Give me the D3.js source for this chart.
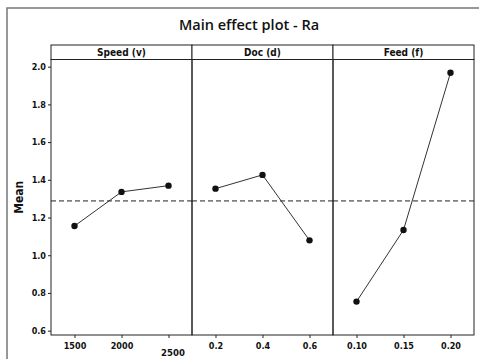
<!DOCTYPE html>
<html>
<head>
<meta charset="utf-8">
<script src="https://cdn.jsdelivr.net/npm/d3@7"></script>
<style>
  body { margin: 0; background: #fff; }
  svg text { font-family: "Liberation Sans Narrow", "DejaVu Sans Condensed", sans-serif; fill: #111; }
</style>
</head>
<body>
<svg id="chart" width="479" height="359"></svg>
<script>
// factors and their levels
var factors = ["Speed (v)", "Doc (d)", "Feed (f)"];
var speedLevels = ["1500", "2000", "2500"];
var docLevels = ["0.2", "0.4", "0.6"];
var feedLevels = ["0.10", "0.15", "0.20"];

// mean Ra at each level
var speedMeans = [1.155, 1.336, 1.369];
var docMeans = [1.353, 1.426, 1.079];
var feedMeans = [0.754, 1.134, 1.968];

var grandMean = 1.288;
var yTicks = [0.6, 0.8, 1.0, 1.2, 1.4, 1.6, 1.8, 2.0];

var svg = d3.select("#chart"),
  width = +svg.attr("width"),
  height = +svg.attr("height");

var plotL = 51, plotR = 474, plotT = 59.5, plotB = 335, stripT = 45;
var panelW = (plotR - plotL) / factors.length;

// outer frame
svg.append("rect")
  .attr("x", 7).attr("y", 8)
  .attr("width", 480).attr("height", 360)
  .attr("fill", "none")
  .attr("stroke", "#777")
  .attr("stroke-width", 1.5);

svg.append("text")
  .attr("x", 249).attr("y", 30)
  .attr("text-anchor", "middle")
  .style("font-family", "'Open Sans', sans-serif")
  .style("font-size", "14.5px")
  .style("font-weight", "600")
  .text("Main effect plot - Ra");

var y = d3.scaleLinear().domain([0.577, 2.038]).range([plotB, plotT]);

var yAxis = svg.append("g")
  .attr("transform", "translate(" + plotL + ",0)")
  .call(d3.axisLeft(y).tickValues(yTicks).tickFormat(d3.format(".1f")).tickSize(3).tickSizeOuter(0));
yAxis.select(".domain").remove();
yAxis.selectAll("text").style("font-size", "9px").style("font-weight", "bold").attr("x", -5);
yAxis.selectAll("line").attr("stroke", "#222");

svg.append("text")
  .attr("transform", "translate(23," + (plotT + plotB) / 2 + ") rotate(-90)")
  .attr("text-anchor", "middle")
  .style("font-size", "12px")
  .style("font-weight", "bold")
  .text("Mean");

var panels = [
  { name: factors[0], levels: speedLevels, means: speedMeans },
  { name: factors[1], levels: docLevels, means: docMeans },
  { name: factors[2], levels: feedLevels, means: feedMeans }
];

panels.forEach(function (p, i) {
  var x0 = plotL + i * panelW;
  var x = d3.scalePoint().domain(p.levels).range([x0, x0 + panelW]).padding(0.5);

  var g = svg.append("g");

  // strip
  g.append("rect")
    .attr("x", x0).attr("y", stripT)
    .attr("width", panelW).attr("height", plotT - stripT)
    .attr("fill", "#fff").attr("stroke", "#222").attr("stroke-width", 1);
  g.append("text")
    .attr("x", x0 + panelW / 2).attr("y", stripT + 10.5)
    .attr("text-anchor", "middle")
    .style("font-size", "10px")
    .style("font-weight", "bold")
    .text(p.name);

  // panel box
  g.append("rect")
    .attr("x", x0).attr("y", plotT)
    .attr("width", panelW).attr("height", plotB - plotT)
    .attr("fill", "none").attr("stroke", "#222").attr("stroke-width", 1);

  // x axis
  var xa = g.append("g")
    .attr("transform", "translate(0," + plotB + ")")
    .call(d3.axisBottom(x).tickSize(3).tickSizeOuter(0));
  xa.select(".domain").remove();
  xa.selectAll("line").attr("stroke", "#222");
  xa.selectAll("text")
    .style("font-size", "9px")
    .style("font-weight", "bold")
    .attr("y", 8);
  // the last speed label sits a bit lower and to the right in the original
  if (i === 0) {
    xa.selectAll("text").filter(function (d) { return d === "2500"; })
      .attr("y", 14).attr("dx", 4).style("font-size", "9.5px");
  }

  // grand mean reference line
  g.append("line")
    .attr("x1", x0).attr("x2", x0 + panelW)
    .attr("y1", y(grandMean)).attr("y2", y(grandMean))
    .attr("stroke", "#222").attr("stroke-dasharray", "5,3").attr("stroke-width", 1);

  var pts = p.levels.map(function (l, j) { return [l, p.means[j]]; });

  g.append("path")
    .datum(pts)
    .attr("fill", "none")
    .attr("stroke", "#333")
    .attr("stroke-width", 1)
    .attr("d", d3.line().x(function (d) { return x(d[0]); }).y(function (d) { return y(d[1]); }));

  g.selectAll("circle")
    .data(pts)
    .enter().append("circle")
    .attr("cx", function (d) { return x(d[0]); })
    .attr("cy", function (d) { return y(d[1]); })
    .attr("r", 3.2)
    .attr("fill", "#111");
});
</script>
</body>
</html>
